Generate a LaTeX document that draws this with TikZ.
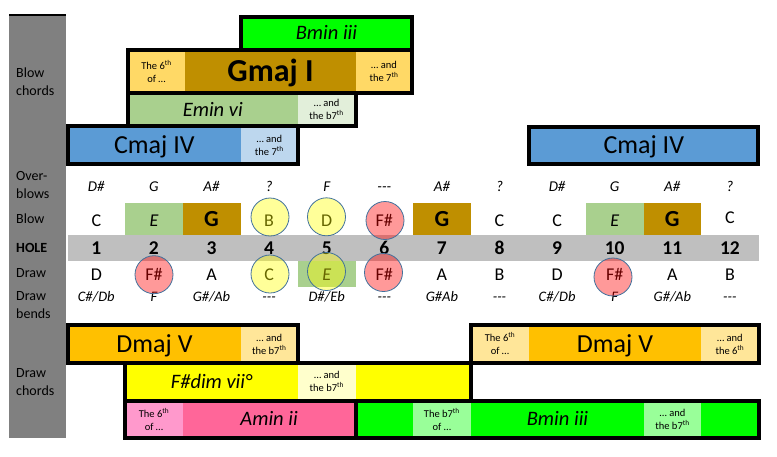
\documentclass[tikz,border=0pt]{standalone}
\usepackage{fontspec}
\setmainfont{Carlito}
\definecolor{cgreen}{HTML}{00FF00}
\definecolor{cgold}{HTML}{BF8F00}
\definecolor{clgold}{HTML}{FFD966}
\definecolor{cemin}{HTML}{A9D08E}
\definecolor{clemin}{HTML}{E2EFDA}
\definecolor{cblue}{HTML}{5B9BD5}
\definecolor{clblue}{HTML}{BDD7EE}
\definecolor{corange}{HTML}{FFC000}
\definecolor{clorange}{HTML}{FFE699}
\definecolor{cyellow}{HTML}{FFFF00}
\definecolor{clyellow}{HTML}{FFFFCC}
\definecolor{cpink}{HTML}{FF6699}
\definecolor{clpink}{HTML}{FF99CC}
\definecolor{clgreen}{HTML}{99FF99}
\definecolor{cgraycol}{HTML}{808080}
\definecolor{cholegray}{HTML}{BFBFBF}
\definecolor{cedge}{HTML}{41719C}
\newcommand\mycell[8][]{%
  \pgfmathsetmacro\mycw{(#5)-(#3)}%
  \pgfmathsetmacro\mych{(#6)-(#4)}%
  \node[cellsty,#1,fill=#7,minimum width=\mycw pt,minimum height=\mych pt] (#2) at ({((#3)+(#5))/2},{((#4)+(#6))/2}) {#8};%
}
\tikzset{
  cellsty/.style={rectangle,inner sep=0pt,outer sep=0pt,draw=none},
  bigname/.style={font=\fontsize{26}{30}\selectfont,text height=16.7pt,text depth=0pt},
  boldname/.style={font=\fontsize{32}{36}\selectfont\bfseries,text height=20.6pt,text depth=0pt},
  itname/.style={font=\fontsize{20.5}{24}\selectfont\itshape,text height=13.2pt,text depth=0pt},
  smalltxt/.style={font=\fontsize{10.5}{13}\selectfont,align=center},
  border/.style={line width=4pt,draw=black},
  lab/.style={font=\fontsize{14}{18}\selectfont,anchor=west,inner sep=0pt,align=left},
  nt/.style={font=\fontsize{18}{20}\selectfont,anchor=base,inner sep=0pt},
  ntit/.style={nt,font=\fontsize{18}{20}\selectfont\itshape},
  ntbold/.style={nt,font=\fontsize{23}{26}\selectfont\bfseries},
  nthi/.style={nt,yshift=2.5pt},
  holenum/.style={font=\fontsize{19.5}{22}\selectfont\bfseries,anchor=base,inner sep=0pt},
  smallit/.style={font=\fontsize{14.5}{16}\selectfont\itshape,anchor=base,inner sep=0pt},
  ycirc/.style={circle,minimum size=38pt,inner sep=0pt,draw=cedge,line width=0.8pt,fill=cyellow,fill opacity=0.4},
  rcirc/.style={ycirc,fill=red}
}
\begin{document}
\begin{tikzpicture}[x=1pt,y=-1pt]
\useasboundingbox (0,0) rectangle (777,456);
% left gray column and labels
\mycell{graycol}{9}{15}{66}{437.5}{cgraycol}{}
\draw[line width=2pt] (graycol.north west) -- (graycol.north east);
\node[lab] (lbc) at (16,81.8) {Blow\\chords};
\node[lab] (lob) at (16,185.1) {Over-\\blows};
\node[lab] (lbl) at (16,218.4) {Blow};
\node[lab,font=\fontsize{14}{18}\selectfont\bfseries] (lho) at (16,248) {HOLE};
\node[lab] (ldr) at (16,273.4) {Draw};
\node[lab] (lbe) at (16,304.8) {Draw\\bends};
\node[lab] (ldc) at (16,382.4) {Draw\\chords};
% top chords
\mycell[itname]{bminT}{241}{16.7}{412}{49.7}{cgreen}{Bmin iii}
\mycell[smalltxt]{gsix}{128}{49.7}{185}{93}{clgold}{The 6\textsuperscript{th}\\of …}
\mycell[boldname]{gmaj}{185}{49.7}{356}{93}{cgold}{Gmaj I}
\mycell[smalltxt]{gsev}{356}{49.7}{412}{93}{clgold}{… and\\the 7\textsuperscript{th}}
\mycell[itname]{emin}{128}{93}{297.7}{126}{cemin}{Emin vi}
\mycell[smalltxt]{esev}{297.7}{93}{355.5}{126}{clemin}{… and\\the b7\textsuperscript{th}}
\mycell[bigname]{cmajL}{68}{126}{240.7}{164}{cblue}{Cmaj IV}
\mycell[smalltxt]{csev}{240.7}{126}{298}{164}{clblue}{… and\\the 7\textsuperscript{th}}
\mycell[bigname]{cmajR}{529.3}{126.5}{758.3}{164}{cblue}{Cmaj IV}
\draw[border] (241,16.7) rectangle (412,49.7);
\draw[border] (128,49.7) rectangle (412,93);
\draw[border] (128,93) rectangle (355.5,126);
\draw[border] (68,126) rectangle (298,164);
\draw[border] (529.3,126.5) rectangle (758.3,164);
% note grid backgrounds
\mycell{holerow}{68}{235}{759}{261}{cholegray}{}
\mycell{bgtwo}{125.1}{203}{182.7}{235}{cemin}{}
\mycell{bgthree}{182.7}{203}{240.7}{235}{cgold}{}
\mycell{bgseven}{412.7}{203}{471}{235}{cgold}{}
\mycell{bgten}{586}{203}{644}{235}{cemin}{}
\mycell{bgeleven}{644}{203}{701}{235}{cgold}{}
\mycell{bgdfive}{298}{261}{356}{287}{cemin}{}
% overblows
\foreach \t [count=\i] in {D\#,G,A\#,?,F,-{}-{}-,A\#,?,D\#,G,A\#,?}
  \node[smallit,font=\fontsize{15}{16}\selectfont\itshape] (ob\i) at ({67.5+57.6*(\i-0.5)},191) {\t};
% blow
\foreach \t/\s [count=\i] in {C/nt,E/ntit,G/ntbold,B/nt,D/nt,F\#/nt,G/ntbold,C/nt,C/nt,E/ntit,G/ntbold,C/nthi}
  \node[\s] (bl\i) at ({67.5+57.6*(\i-0.5)},226) {\t};
% holes
\foreach \i in {1,...,12}
  \node[holenum] (h\i) at ({67.5+57.6*(\i-0.5)},254.3) {\i};
% draw
\foreach \t/\s [count=\i] in {D/nt,F\#/nt,A/nt,C/nt,E/ntit,F\#/nt,A/nt,B/nt,D/nt,F\#/nt,A/nt,B/nt}
  \node[\s] (dr\i) at ({67.5+57.6*(\i-0.5)},280.7) {\t};
% bends
\foreach \t [count=\i] in {C\#/Db,F,G\#/Ab,-{}-{}-,D\#/Eb,-{}-{}-,G\#Ab,-{}-{}-,C\#/Db,F,G\#/Ab,-{}-{}-}
  \node[smallit] (bd\i) at ({67.5+57.6*(\i-0.5)},301) {\t};
% bottom chords
\mycell[bigname]{dmajL}{68.3}{325}{240.7}{362.8}{corange}{Dmaj V}
\mycell[smalltxt]{dsevL}{240.7}{325}{297.8}{362.8}{clorange}{… and\\the b7\textsuperscript{th}}
\mycell[smalltxt]{dsixA}{471}{325}{529}{362.8}{clorange}{The 6\textsuperscript{th}\\of …}
\mycell[bigname]{dmajR}{529}{325}{701}{362.8}{corange}{Dmaj V}
\mycell[smalltxt]{dsixB}{701}{325}{758.8}{362.8}{clorange}{… and\\the 6\textsuperscript{th}}
\mycell[itname]{fdim}{125.3}{362.8}{297.7}{400.5}{cyellow}{F\#dim vii°}
\mycell[smalltxt]{fsev}{297.7}{362.8}{356}{400.5}{clyellow}{… and\\the b7\textsuperscript{th}}
\mycell{fyel}{356}{362.8}{470.5}{400.5}{cyellow}{}
\mycell[smalltxt]{asix}{125.3}{400.5}{182.7}{437.8}{clpink}{The 6\textsuperscript{th}\\of …}
\mycell[itname]{amin}{182.7}{400.5}{355.5}{437.8}{cpink}{Amin ii}
\mycell{bgrA}{355.5}{400.5}{412.7}{437.8}{cgreen}{}
\mycell[smalltxt]{bsevA}{412.7}{400.5}{471}{437.8}{clgreen}{The b7\textsuperscript{th}\\of …}
\mycell[itname]{bminB}{471}{400.5}{644}{437.8}{cgreen}{Bmin iii}
\mycell[smalltxt]{bsevB}{644}{400.5}{701}{437.8}{clgreen}{… and\\the b7\textsuperscript{th}}
\mycell{bgrB}{701}{400.5}{758.8}{437.8}{cgreen}{}
\draw[border] (68.3,325) rectangle (297.8,362.8);
\draw[border] (471,325) rectangle (758.8,362.8);
\draw[border] (125.3,362.8) rectangle (470.5,400.5);
\draw[border] (125.3,400.5) rectangle (355.5,437.8);
\draw[border] (355.5,400.5) rectangle (758.8,437.8);
% circles
\node[ycirc] (cbB) at (270,217) {};
\node[ycirc] (cbD) at (326.5,216.8) {};
\node[rcirc] (cbF) at (385,220.5) {};
\node[rcirc] (cdF2) at (154,274.7) {};
\node[ycirc] (cdC) at (270,274) {};
\node[ycirc] (cdE) at (326.5,271.5) {};
\node[rcirc] (cdF6) at (383.5,272.5) {};
\node[rcirc] (cdF10) at (613,277) {};
\end{tikzpicture}
\end{document}
